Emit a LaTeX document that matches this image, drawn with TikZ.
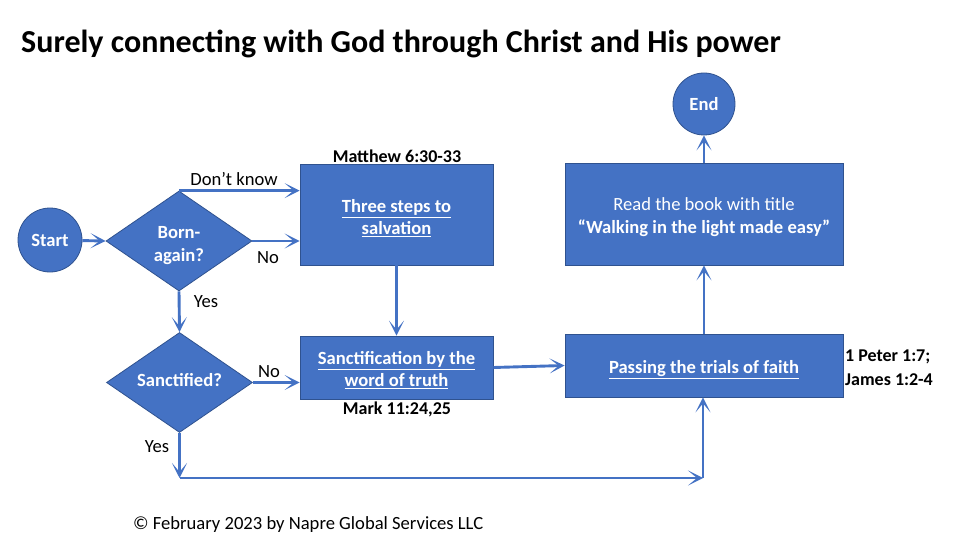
\documentclass[tikz,border=0pt]{standalone}
\usepackage{fontspec}
\setmainfont{Carlito}
\usetikzlibrary{shapes.geometric,arrows.meta}
\definecolor{pblue}{HTML}{4472C4}
\definecolor{pedge}{HTML}{2F528F}
\newcommand{\mvtext}[2]{\raisebox{#1}[0pt][0pt]{\begin{tabular}{@{}c@{}}#2\end{tabular}}}
\tikzset{
  box/.style={draw=pedge, line width=0.8pt, fill=pblue, text=white, inner sep=0pt, font=\fontsize{18.6}{22.5}\selectfont\bfseries},
  dia/.style={diamond, draw=pedge, line width=0.8pt, fill=pblue, text=white, inner sep=0pt, aspect=1.46, minimum width=146pt, minimum height=100pt, font=\fontsize{18.6}{23}\selectfont\bfseries},
  term/.style={circle, draw=pedge, line width=0.8pt, fill=pblue, text=white, inner sep=0pt, font=\fontsize{18.6}{22}\selectfont\bfseries},
  conn/.style={draw=pblue, line width=2.9pt, -{Stealth[length=15pt,width=15pt,inset=9pt]}},
  lbl/.style={inner sep=0pt, font=\fontsize{18.6}{22}\selectfont},
  ref/.style={inner sep=0pt, font=\fontsize{18}{24}\selectfont\bfseries, align=left},
}
\begin{document}
\begin{tikzpicture}[x=1pt,y=-1pt]
\useasboundingbox (0,0) rectangle (960,540);
\node[anchor=west, inner sep=0pt, font=\fontsize{32}{36}\selectfont\bfseries] (title) at (21,44) {Surely connecting with God through Christ and His power};

\node[term, minimum size=64pt] (start) at (50,240) {Start};
\node[dia] (born) at (179,241) {\mvtext{-9pt}{Born-\\again?}};
\node[dia] (sanct) at (179.5,382.5) {\mvtext{-4pt}{Sanctified?}};
\node[box, minimum width=193pt, minimum height=101pt] (three) at (396.5,214.5) {\mvtext{-9pt}{\underline{Three steps to}\\\underline{salvation}}};
\node[box, minimum width=193pt, minimum height=63pt] (sbox) at (396.5,367.5) {\mvtext{-8pt}{\underline{Sanctification by the}\\\underline{word of truth}}};
\node[box, minimum width=278pt, minimum height=63pt] (pass) at (704,365.5) {\mvtext{-8pt}{\underline{Passing the trials of faith}}};
\node[box, minimum width=278pt, minimum height=102pt] (read) at (704,214) {\mvtext{-8pt}{\mdseries Read the book with title\\``\textbf{Walking in the light made easy}''}};
\node[term, minimum size=62pt] (end) at (704,104) {End};

\node[ref, anchor=south] (matt) at (397,163) {Matthew 6:30-33};
\node[ref, anchor=north] (mark) at (397,402) {Mark 11:24,25};
\node[ref, anchor=west] (peter) at (845,368) {1 Peter 1:7;\\James 1:2-4};

\draw[conn] (start) -- (born.west);
\draw[conn] (born.north) -- (born.north -| three.west);
\draw[conn] (born.east) -- (born.east -| three.west);
\draw[conn] (born.south) -- (sanct.north);
\draw[conn] (sanct.east) -- (sanct.east -| sbox.west);
\draw[conn] (three.south) -- (sbox.north);
\draw[conn] (sbox.east) -- (pass.west);
\draw[conn] (pass.north) -- (read.south);
\draw[conn] (read.north) -- (end.south);
\coordinate (c1) at (179.5,478);
\coordinate (c2) at (703,478);
\draw[conn] (sanct.south) -- (c1);
\draw[conn] (c1) -- (c2);
\draw[conn] (c2) -- (c2 |- pass.south);

\node[lbl] (dk) at (234,179) {Don’t know};
\node[lbl] (no1) at (268,258) {No};
\node[lbl] (yes1) at (206,302) {Yes};
\node[lbl] (no2) at (269,372) {No};
\node[lbl] (yes2) at (157,447) {Yes};

\node[lbl, anchor=west] (foot) at (133,525) {© February 2023 by Napre Global Services LLC};
\end{tikzpicture}
\end{document}
